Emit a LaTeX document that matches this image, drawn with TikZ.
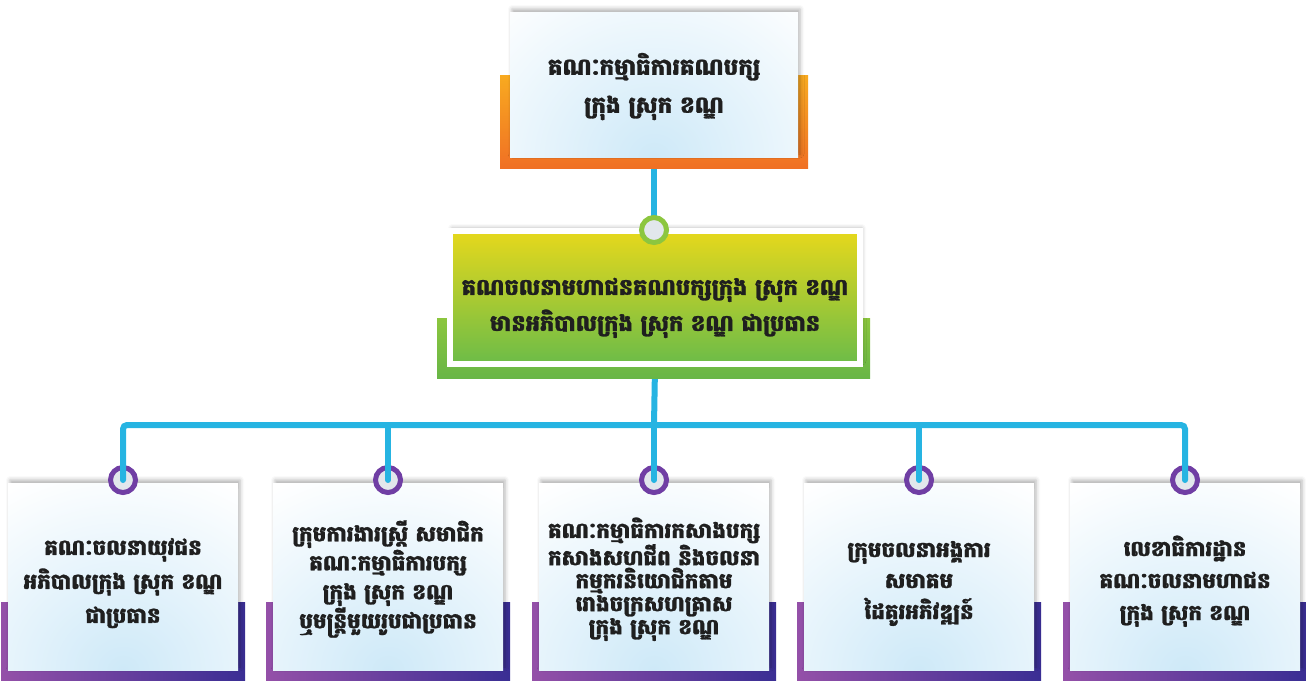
\documentclass[tikz,border=0pt]{standalone}
\usepackage{fontspec}
\newfontfamily\khmer[Script=Khmer, BoldFeatures={FakeBold=1.2}]{Battambang}
\usetikzlibrary{shadows.blur}
\definecolor{linkblue}{RGB}{38,180,226}
\definecolor{glowblue}{RGB}{206,233,248}
\definecolor{orangetop}{RGB}{248,170,32}
\definecolor{orangebot}{RGB}{240,112,36}
\definecolor{greentop}{RGB}{230,216,28}
\definecolor{greenbot}{RGB}{108,188,72}
\definecolor{greenbartop}{RGB}{140,198,62}
\definecolor{greenbarbot}{RGB}{104,182,70}
\definecolor{greenring}{RGB}{140,198,63}
\definecolor{purpleleft}{RGB}{148,80,168}
\definecolor{purpleright}{RGB}{58,46,148}
\definecolor{ringpurple}{RGB}{112,62,164}
\definecolor{ringfill}{RGB}{226,231,236}

\pgfdeclarelayer{background}
\pgfdeclarelayer{bars}
\pgfsetlayers{background,bars,main}

\tikzset{
  card/.style={rectangle, fill=white, inner sep=0pt, align=center, text=black!88,
    blur shadow={shadow xshift=2pt, shadow yshift=3pt, shadow blur radius=4pt, shadow opacity=30},
    path picture={\shade[inner color=glowblue, outer color=white]
      (path picture bounding box.south) ellipse [x radius=230pt, y radius=210pt];}},
  smallcard/.style={card, minimum width=230pt, minimum height=187pt},
  ring/.style={circle, draw=ringpurple, fill=ringfill, line width=5pt, minimum size=25pt, inner sep=0pt},
  link/.style={draw=linkblue, line width=6pt, line cap=round},
  purplebar/.style={left color=purpleleft, right color=purpleright}
}

\begin{document}
\begin{tikzpicture}[x=1pt, y=-1pt]
    \useasboundingbox (0,0) rectangle (1306,680);

    % Create top and middle boxes
    \node[card, minimum width=288pt, minimum height=145pt,
          font=\khmer\bfseries\fontsize{23}{38}\selectfont] (top) at (654,84.5)
          {\rule{0pt}{26pt}គណៈកម្មាធិការគណបក្ស\\ក្រុង ស្រុក ខណ្ឌ};
    \node[rectangle, top color=greentop, bottom color=greenbot, draw=white, line width=6pt,
          minimum width=410pt, minimum height=133pt, align=center, text=black!88,
          blur shadow={shadow xshift=2pt, shadow yshift=3pt, shadow blur radius=4pt, shadow opacity=30},
          font=\khmer\bfseries\fontsize{22.5}{36}\selectfont] (mid) at (655,297.5)
          {\rule{0pt}{38pt}គណចលនាមហាជនគណបក្សក្រុង ស្រុក ខណ្ឌ\\មានអភិបាលក្រុង ស្រុក ខណ្ឌ ជាប្រធាន};

    % Create bottom boxes
    \node[smallcard, font=\khmer\bfseries\fontsize{21.5}{34}\selectfont] (b1) at (123,576.5)
          {\rule{0pt}{30pt}គណៈចលនាយុវជន\\អភិបាលក្រុង ស្រុក ខណ្ឌ\\ជាប្រធាន};
    \node[smallcard, font=\khmer\bfseries\fontsize{21.5}{29}\selectfont] (b2) at (388,576.5)
          {\rule{0pt}{26pt}ក្រុមការងារស្ត្រី សមាជិក\\គណៈកម្មាធិការបក្ស\\ក្រុង ស្រុក ខណ្ឌ\\ឬមន្ត្រីមួយរូបជាប្រធាន};
    \node[smallcard, font=\khmer\bfseries\fontsize{21.5}{23}\selectfont] (b3) at (654,576.5)
          {\rule{0pt}{26pt}គណៈកម្មាធិការកសាងបក្ស\\កសាងសហជីព និងចលនា\\កម្មករនិយោជិកតាម\\រោងចក្រសហគ្រាស\\ក្រុង ស្រុក ខណ្ឌ};
    \node[smallcard, font=\khmer\bfseries\fontsize{21.5}{31}\selectfont] (b4) at (919,576.5)
          {\rule{0pt}{30pt}ក្រុមចលនាអង្គការ\\សមាគម\\ដៃគូរអភិវឌ្ឍន៍};
    \node[smallcard, font=\khmer\bfseries\fontsize{21.5}{32}\selectfont] (b5) at (1185,576.5)
          {\rule{0pt}{30pt}លេខាធិការដ្ឋាន\\គណៈចលនាមហាជន\\ក្រុង ស្រុក ខណ្ឌ};

    % Colour bars behind the boxes
    \begin{pgfonlayer}{bars}
        \shade[top color=orangetop, bottom color=orangebot] (500,75) rectangle (808,168);
        \shade[top color=greenbartop, bottom color=greenbarbot] (437,318) rectangle (870,378);
        \shade[purplebar] (1,602) rectangle (245,680);
        \shade[purplebar] (266,602) rectangle (510,680);
        \shade[purplebar] (532,602) rectangle (776,680);
        \shade[purplebar] (797,602) rectangle (1041,680);
        \shade[purplebar] (1063,602) rectangle (1306,680);
    \end{pgfonlayer}

    % Create rings
    \node[ring, draw=greenring] (c0) at (654,230) {};
    \node[ring] (r1) at (123,480) {};
    \node[ring] (r2) at (388,480) {};
    \node[ring] (r3) at (654,480) {};
    \node[ring] (r4) at (919,480) {};
    \node[ring] (r5) at (1185,480) {};
    \coordinate (bus) at (654,425);

    % Draw connectors
    \begin{pgfonlayer}{background}
        \draw[link] (top.south) -- (c0.center);
        \draw[link] (mid.south) -- (bus);
    \end{pgfonlayer}
    \draw[link, rounded corners=4pt] (r1.center) |- (bus) -| (r5.center);
    \draw[link] (r2.center) -- (r2.center |- bus);
    \draw[link] (r3.center) -- (bus);
    \draw[link] (r4.center) -- (r4.center |- bus);
\end{tikzpicture}
\end{document}
